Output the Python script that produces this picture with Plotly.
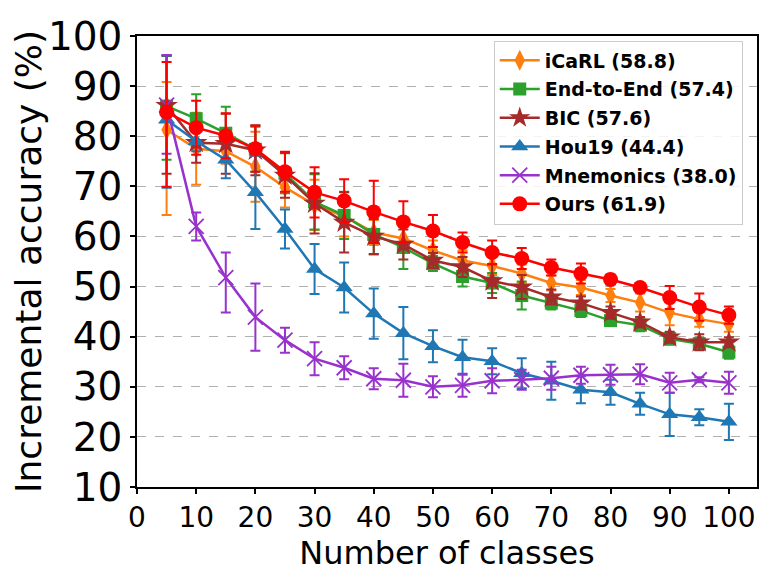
import plotly.graph_objects as go

classes = [5, 10, 15, 20, 25, 30, 35, 40, 45, 50, 55, 60, 65, 70, 75, 80, 85, 90, 95, 100]

icarl = [81.3, 77.5, 77.0, 73.9, 69.8, 66.3, 64.0, 60.8, 59.6, 57.2,
         55.2, 54.1, 52.6, 50.7, 49.8, 48.2, 46.8, 44.8, 43.5, 42.5]
icarl_up = [9.5, 7.2, 2.5, 7.0, 4.0, 5.0, 4.0, 2.5, 2.5, 2.0,
            2.0, 1.8, 1.8, 1.5, 1.5, 1.3, 1.8, 2.5, 1.5, 1.5]
icarl_down = [17.0, 7.2, 2.5, 7.0, 4.0, 5.0, 4.0, 2.5, 2.5, 2.0,
              2.0, 1.8, 1.8, 1.5, 1.5, 1.3, 1.8, 2.5, 1.5, 1.5]

e2e = [86.0, 83.5, 80.6, 77.4, 72.6, 66.9, 64.2, 60.4, 57.8, 54.6,
       52.0, 50.7, 48.2, 46.7, 45.2, 43.2, 42.3, 39.6, 38.6, 36.9]
e2e_up = [10.0, 4.9, 5.3, 4.5, 4.0, 5.5, 4.7, 4.0, 4.3, 1.5,
          2.0, 2.0, 2.8, 1.3, 1.3, 1.0, 1.2, 1.2, 1.2, 1.3]
e2e_down = [10.7, 4.9, 5.3, 4.5, 4.0, 5.5, 4.7, 4.0, 4.3, 1.5,
            2.0, 2.0, 2.8, 1.3, 1.3, 1.0, 1.2, 1.2, 1.2, 1.3]

bic = [86.1, 78.7, 78.5, 77.2, 72.2, 66.6, 62.8, 60.0, 58.4, 55.2,
       53.9, 51.1, 49.9, 47.9, 46.7, 44.8, 42.9, 39.9, 38.9, 38.9]
bic_up = [10.0, 4.0, 6.0, 5.0, 4.5, 6.0, 6.0, 3.5, 3.0, 1.5,
          2.0, 3.4, 2.4, 1.5, 1.3, 1.2, 1.0, 1.1, 1.6, 1.0]
bic_down = [13.6, 4.0, 6.0, 5.0, 4.5, 6.0, 6.0, 3.5, 3.0, 1.5,
            2.0, 3.4, 2.4, 1.5, 1.3, 1.2, 1.0, 1.1, 1.6, 1.0]

hou19 = [83.3, 79.0, 75.3, 68.8, 61.5, 53.5, 49.8, 44.6, 40.7, 38.1,
         35.9, 35.1, 32.7, 31.2, 29.4, 28.9, 26.6, 24.5, 23.9, 23.0]
hou19_up = [12.8, 2.0, 3.7, 7.3, 3.9, 5.0, 5.0, 5.0, 5.2, 3.2,
            3.5, 2.6, 3.0, 3.8, 2.7, 2.5, 2.2, 4.3, 1.6, 3.6]
hou19_down = [13.6, 2.0, 3.7, 7.3, 3.9, 5.0, 5.0, 5.0, 5.2, 3.2,
              3.5, 2.6, 3.0, 3.8, 2.7, 2.5, 2.2, 4.3, 1.6, 3.6]

mnemonics = [86.2, 62.0, 51.8, 43.9, 39.3, 35.6, 33.8, 31.6, 31.3, 30.0,
             30.3, 31.2, 31.4, 31.7, 32.3, 32.4, 32.5, 30.8, 31.4, 30.8]
mnemonics_up = [10.0, 2.8, 5.0, 6.7, 2.5, 3.3, 2.3, 2.1, 3.3, 2.1,
                2.3, 2.5, 2.0, 2.3, 1.7, 2.0, 2.0, 2.0, 0.5, 2.2]
mnemonics_down = [9.7, 2.8, 7.0, 6.7, 2.5, 3.3, 2.3, 2.1, 3.3, 2.1,
                  2.3, 2.5, 2.0, 2.3, 1.7, 2.0, 2.0, 2.0, 0.5, 2.2]

ours = [84.8, 81.7, 80.1, 77.5, 72.9, 68.8, 67.1, 64.9, 62.9, 61.1,
        58.8, 56.8, 55.6, 53.8, 52.6, 51.4, 49.8, 47.8, 45.9, 44.3]
ours_up = [10.0, 5.4, 4.5, 4.6, 4.0, 5.0, 4.3, 6.2, 4.1, 3.2,
           2.0, 2.4, 2.1, 1.6, 2.0, 1.0, 0.8, 2.3, 2.7, 1.7]
ours_down = [14.9, 5.4, 4.5, 4.6, 4.0, 5.0, 4.3, 6.2, 4.1, 3.2,
             2.0, 2.4, 2.1, 1.6, 2.0, 1.0, 0.8, 2.3, 2.7, 1.7]

series = [
    ("iCaRL (58.8)", icarl, icarl_up, icarl_down, "#ff7f0e", "diamond-tall", 15),
    ("End-to-End (57.4)", e2e, e2e_up, e2e_down, "#2ca02c", "square", 13),
    ("BIC (57.6)", bic, bic_up, bic_down, "#a52a2a", "star", 17),
    ("Hou19 (44.4)", hou19, hou19_up, hou19_down, "#1f77b4", "triangle-up", 15),
    ("Mnemonics (38.0)", mnemonics, mnemonics_up, mnemonics_down, "#9932cc", "x-thin", 15),
    ("Ours (61.9)", ours, ours_up, ours_down, "#ff0000", "circle", 15),
]

fig = go.Figure()
for name, vals, up, down, color, symbol, size in series:
    marker = dict(symbol=symbol, size=size, color=color)
    if symbol == "x-thin":
        marker["line"] = dict(color=color, width=1.8)
    fig.add_trace(go.Scatter(
        x=classes, y=vals, name=name, legendgroup=name, mode="lines+markers",
        line=dict(color=color, width=2.5),
        marker=marker,
        error_y=dict(type="data", symmetric=False, array=up, arrayminus=down,
                     color=color, thickness=2, width=5),
    ))

axis_common = dict(
    showline=True, mirror=True, linecolor="black", linewidth=1.5,
    ticks="outside", ticklen=5, tickwidth=1.5, tickcolor="black",
    zeroline=False, automargin=False,
)

# page body has an 8px margin, so the figure is a bit smaller than the window
fig.update_layout(
    width=763, height=570,
    margin=dict(l=129, r=14, t=28, b=91),
    plot_bgcolor="white", paper_bgcolor="white",
    font=dict(family="DejaVu Sans", color="black"),
    xaxis=dict(range=[0, 104.75], tickvals=list(range(0, 101, 10)),
               tickfont=dict(size=28), showgrid=False,
               title=dict(text="Number of classes", font=dict(size=32), standoff=2),
               **axis_common),
    yaxis=dict(range=[10, 100], tickvals=list(range(10, 101, 10)),
               tickfont=dict(size=39), showgrid=True, gridcolor="#b0b0b0",
               griddash="dash", gridwidth=1,
               title=dict(text="Incremental accuracy (%)", font=dict(size=36), standoff=2),
               **axis_common),
    legend=dict(x=0.977, y=0.99, xanchor="right", yanchor="top",
                bgcolor="rgba(255,255,255,0.85)", bordercolor="#cccccc", borderwidth=1,
                font=dict(size=19, family="DejaVu Sans", weight="bold"),
                itemwidth=40, tracegroupgap=1),
    showlegend=True,
)

fig.write_html("out.html")
